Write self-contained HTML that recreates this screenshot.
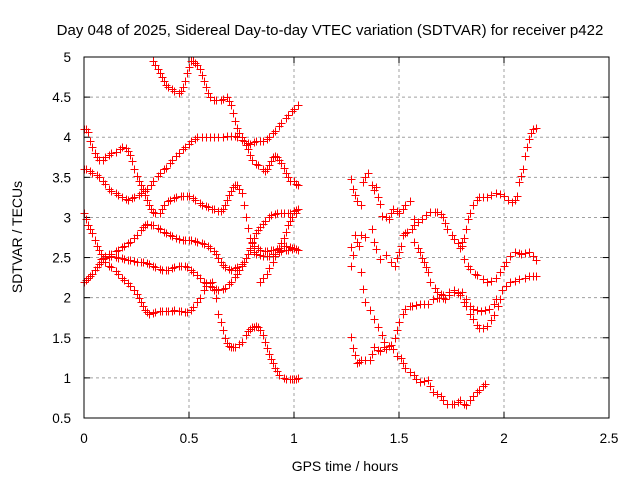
<!DOCTYPE html>
<html><head><meta charset="utf-8"><style>
body{margin:0;background:#fff;}
svg{display:block;font-family:"Liberation Sans",sans-serif;}
</style></head><body>
<svg id="chart" width="640" height="480" viewBox="0 0 640 480">
<rect width="640" height="480" fill="#fff"/>
<text x="330" y="35" font-size="15" text-anchor="middle">Day 048 of 2025, Sidereal Day-to-day VTEC variation (SDTVAR) for receiver p422</text>
<text x="345" y="471" font-size="14" text-anchor="middle">GPS time / hours</text>
<text transform="translate(22,237) rotate(-90)" font-size="14" text-anchor="middle">SDTVAR / TECUs</text>
<g id="grid"></g>
<g id="marks"></g>
<rect x="84" y="57" width="525" height="361" fill="none" stroke="#000" stroke-width="1"/>
</svg>
<script>
const xTicks=[0,0.5,1,1.5,2,2.5];
const xTickLabels=["0","0.5","1","1.5","2","2.5"];
const yTicks=[0.5,1,1.5,2,2.5,3,3.5,4,4.5,5];
const yTickLabels=["0.5","1","1.5","2","2.5","3","3.5","4","4.5","5"];
const traceA=[[0.33,4.95],[0.34,4.9],[0.35,4.85],[0.36,4.8],[0.37,4.75],[0.38,4.7],[0.39,4.65],[0.4,4.62],[0.42,4.6],[0.43,4.57],[0.45,4.55],[0.46,4.58],[0.47,4.62],[0.48,4.7],[0.49,4.8],[0.5,4.88],[0.51,4.95],[0.52,4.95],[0.53,4.93],[0.54,4.9],[0.55,4.85],[0.56,4.78],[0.57,4.7],[0.58,4.62],[0.59,4.55],[0.6,4.5],[0.62,4.47],[0.63,4.47],[0.65,4.47],[0.66,4.48],[0.68,4.5],[0.69,4.45],[0.7,4.4],[0.71,4.3],[0.72,4.2],[0.73,4.12],[0.74,4.05],[0.75,4.0],[0.76,3.95],[0.78,3.93],[0.79,3.92],[0.81,3.94],[0.82,3.95],[0.84,3.95],[0.85,3.95],[0.87,3.98],[0.88,4.0],[0.9,4.05],[0.91,4.08],[0.93,4.14],[0.94,4.18],[0.96,4.24],[0.97,4.28],[0.99,4.33],[1.0,4.35],[1.02,4.4]];
const traceB=[[0,4.1],[0.01,4.1],[0.02,4.07],[0.03,3.95],[0.04,3.88],[0.05,3.8],[0.06,3.75],[0.07,3.72],[0.09,3.72],[0.1,3.75],[0.12,3.78],[0.13,3.8],[0.15,3.82],[0.17,3.85],[0.18,3.88],[0.2,3.87],[0.21,3.83],[0.22,3.78],[0.23,3.7],[0.24,3.6],[0.25,3.52],[0.26,3.45],[0.27,3.4],[0.28,3.35],[0.29,3.28],[0.3,3.22],[0.31,3.15],[0.32,3.1],[0.33,3.07],[0.34,3.05],[0.36,3.05],[0.37,3.1],[0.38,3.15],[0.4,3.2],[0.41,3.22],[0.43,3.24],[0.44,3.25],[0.46,3.27],[0.47,3.27],[0.49,3.27],[0.5,3.27],[0.52,3.24],[0.53,3.22],[0.55,3.18],[0.56,3.15],[0.58,3.14],[0.59,3.13],[0.61,3.11],[0.62,3.1],[0.64,3.08],[0.65,3.08],[0.66,3.1],[0.67,3.15],[0.68,3.22],[0.69,3.28],[0.7,3.33],[0.71,3.38],[0.72,3.4],[0.73,3.4],[0.74,3.36],[0.75,3.3],[0.76,3.15],[0.77,3.0],[0.78,2.87],[0.79,2.75],[0.8,2.7],[0.81,2.65],[0.83,2.62],[0.84,2.6],[0.86,2.58],[0.87,2.58],[0.89,2.59],[0.9,2.6],[0.92,2.61],[0.93,2.62],[0.95,2.64],[0.96,2.65],[0.98,2.63],[0.99,2.62],[1.01,2.61],[1.02,2.6]];
const traceC=[[0,3.6],[0.01,3.6],[0.03,3.58],[0.04,3.56],[0.06,3.53],[0.07,3.5],[0.09,3.45],[0.1,3.42],[0.12,3.35],[0.13,3.33],[0.15,3.3],[0.16,3.28],[0.18,3.25],[0.2,3.23],[0.21,3.22],[0.23,3.24],[0.24,3.25],[0.26,3.28],[0.27,3.3],[0.29,3.33],[0.3,3.35],[0.32,3.4],[0.33,3.45],[0.35,3.52],[0.36,3.55],[0.38,3.6],[0.39,3.62],[0.41,3.68],[0.42,3.72],[0.44,3.77],[0.45,3.8],[0.47,3.85],[0.48,3.88],[0.5,3.92],[0.51,3.95],[0.53,3.98],[0.54,4.0],[0.56,4.0],[0.58,4.0],[0.6,4.0],[0.62,4.0],[0.64,4.0],[0.66,4.0],[0.68,4.01],[0.7,4.02],[0.72,4.01],[0.73,4.0],[0.75,3.97],[0.76,3.95],[0.77,3.9],[0.78,3.85],[0.79,3.78],[0.8,3.72],[0.82,3.67],[0.83,3.65],[0.85,3.6],[0.86,3.58],[0.87,3.6],[0.88,3.65],[0.89,3.7],[0.9,3.75],[0.91,3.76],[0.92,3.75],[0.93,3.72],[0.94,3.68],[0.95,3.62],[0.96,3.55],[0.97,3.5],[0.98,3.45],[1.0,3.45],[1.01,3.42],[1.02,3.4]];
const traceD=[[0,3.05],[0.01,2.98],[0.02,2.9],[0.03,2.85],[0.04,2.8],[0.05,2.72],[0.06,2.65],[0.07,2.6],[0.08,2.55],[0.09,2.5],[0.1,2.45],[0.12,2.4],[0.13,2.38],[0.15,2.33],[0.16,2.3],[0.18,2.25],[0.19,2.22],[0.21,2.18],[0.22,2.15],[0.24,2.1],[0.25,2.05],[0.26,2.0],[0.27,1.95],[0.28,1.9],[0.29,1.85],[0.3,1.82],[0.31,1.8],[0.33,1.81],[0.34,1.82],[0.36,1.83],[0.37,1.83],[0.39,1.83],[0.4,1.83],[0.42,1.84],[0.43,1.85],[0.45,1.84],[0.46,1.83],[0.48,1.82],[0.49,1.82],[0.51,1.85],[0.52,1.88],[0.54,1.95],[0.55,2.0],[0.57,2.1],[0.58,2.15],[0.6,2.18],[0.61,2.2],[0.62,2.1],[0.63,2.0],[0.64,1.8],[0.65,1.7],[0.66,1.6],[0.67,1.5],[0.68,1.43],[0.69,1.4],[0.7,1.38],[0.71,1.38],[0.72,1.38],[0.74,1.42],[0.75,1.45],[0.77,1.53],[0.78,1.58],[0.79,1.61],[0.8,1.63],[0.81,1.64],[0.82,1.65],[0.83,1.63],[0.84,1.6],[0.85,1.53],[0.86,1.45],[0.87,1.37],[0.88,1.3],[0.89,1.23],[0.9,1.18],[0.91,1.12],[0.92,1.08],[0.93,1.04],[0.95,1.0],[0.96,0.99],[0.98,0.98],[0.99,0.98],[1.0,0.98],[1.01,0.99],[1.02,1.0]];
const traceE=[[0,2.2],[0.01,2.22],[0.02,2.25],[0.03,2.27],[0.04,2.3],[0.05,2.34],[0.06,2.38],[0.07,2.42],[0.08,2.45],[0.09,2.48],[0.1,2.5],[0.12,2.51],[0.13,2.52],[0.15,2.51],[0.16,2.5],[0.18,2.49],[0.19,2.48],[0.21,2.47],[0.22,2.47],[0.24,2.46],[0.25,2.45],[0.27,2.45],[0.28,2.45],[0.3,2.43],[0.31,2.42],[0.33,2.4],[0.34,2.38],[0.36,2.36],[0.37,2.35],[0.39,2.35],[0.4,2.35],[0.42,2.37],[0.43,2.38],[0.45,2.39],[0.46,2.4],[0.48,2.39],[0.49,2.38],[0.51,2.34],[0.52,2.32],[0.54,2.28],[0.55,2.25],[0.57,2.2],[0.58,2.18],[0.6,2.15],[0.61,2.13],[0.63,2.11],[0.64,2.1],[0.66,2.11],[0.67,2.12],[0.69,2.17],[0.7,2.2],[0.72,2.26],[0.73,2.3],[0.74,2.35],[0.75,2.4],[0.76,2.45],[0.77,2.5],[0.78,2.55],[0.79,2.6],[0.81,2.57],[0.82,2.55],[0.84,2.53],[0.85,2.52],[0.87,2.52],[0.88,2.52],[0.9,2.54],[0.91,2.55],[0.93,2.57],[0.94,2.58],[0.96,2.59],[0.97,2.6],[0.99,2.61],[1.0,2.62],[1.02,2.6]];
const traceF=[[0.08,2.48],[0.09,2.5],[0.1,2.52],[0.12,2.54],[0.13,2.55],[0.15,2.58],[0.16,2.6],[0.18,2.63],[0.19,2.65],[0.21,2.68],[0.22,2.7],[0.24,2.75],[0.25,2.78],[0.27,2.84],[0.28,2.88],[0.29,2.9],[0.3,2.92],[0.32,2.91],[0.33,2.9],[0.35,2.87],[0.36,2.85],[0.38,2.82],[0.39,2.8],[0.41,2.78],[0.42,2.77],[0.44,2.74],[0.45,2.73],[0.47,2.72],[0.48,2.72],[0.5,2.72],[0.51,2.72],[0.53,2.71],[0.54,2.7],[0.56,2.68],[0.57,2.67],[0.59,2.64],[0.6,2.62],[0.62,2.58],[0.63,2.55],[0.64,2.5],[0.65,2.45],[0.66,2.41],[0.67,2.38],[0.69,2.36],[0.7,2.35],[0.72,2.37],[0.73,2.38],[0.75,2.42],[0.76,2.45],[0.77,2.5],[0.78,2.55],[0.79,2.62],[0.8,2.68],[0.81,2.74],[0.82,2.8],[0.83,2.84],[0.84,2.88],[0.85,2.92],[0.86,2.95],[0.88,3.0],[0.89,3.03],[0.91,3.04],[0.92,3.05],[0.94,3.05],[0.95,3.05],[0.97,3.05],[0.98,3.05],[1.0,3.08],[1.01,3.09],[1.02,3.1]];
const traceG=[[0.84,2.2],[0.85,2.24],[0.87,2.3],[0.88,2.37],[0.9,2.45],[0.91,2.52],[0.93,2.6],[0.94,2.68],[0.95,2.75],[0.96,2.82],[0.97,2.9],[0.98,2.95],[0.99,3.0],[1.01,3.05]];
const traceR1=[[1.27,3.48],[1.28,3.36],[1.29,3.28],[1.3,3.2],[1.32,3.15],[1.33,3.44],[1.34,3.5],[1.35,3.56],[1.37,3.4],[1.38,3.34],[1.39,3.38],[1.4,3.25],[1.41,3.17],[1.42,3.02],[1.44,3.0],[1.45,2.98],[1.46,3.05],[1.47,3.1],[1.49,3.08],[1.5,3.05],[1.52,3.1],[1.53,3.15],[1.55,3.2]];
const traceHump=[[1.48,2.4],[1.49,2.5],[1.5,2.57],[1.51,2.65],[1.52,2.78],[1.53,2.8],[1.54,2.82],[1.56,2.86],[1.57,2.9],[1.59,2.94],[1.61,2.98],[1.63,3.03],[1.65,3.07],[1.67,3.07],[1.68,3.07],[1.7,3.04],[1.71,3.0],[1.72,2.93],[1.73,2.86],[1.75,2.78],[1.76,2.73],[1.78,2.68],[1.8,2.65],[1.81,2.48],[1.83,2.4],[1.84,2.36],[1.86,2.3],[1.87,2.28],[1.9,2.23],[1.92,2.2],[1.94,2.21],[1.96,2.24],[1.98,2.32],[2.0,2.4],[2.01,2.45],[2.03,2.52],[2.05,2.57],[2.07,2.56],[2.08,2.55],[2.1,2.56],[2.12,2.57],[2.14,2.52],[2.15,2.47]];
const traceR2=[[1.57,2.98],[1.57,2.69],[1.59,2.62],[1.6,2.57],[1.61,2.5],[1.62,2.44],[1.63,2.38],[1.64,2.32],[1.65,2.2],[1.67,2.12],[1.68,2.07],[1.7,2.05],[1.71,2.03],[1.74,2.07],[1.76,2.1],[1.78,2.06],[1.79,2.03],[1.81,1.95],[1.82,1.9],[1.84,1.8],[1.85,1.74],[1.87,1.66],[1.88,1.62],[1.9,1.62],[1.92,1.65],[1.94,1.72],[1.95,1.78],[1.97,1.9],[1.98,1.98],[1.99,2.1],[2.01,2.15],[2.03,2.19],[2.05,2.21],[2.07,2.23],[2.1,2.25],[2.12,2.27],[2.14,2.27],[2.15,2.27]];
const traceR3=[[1.79,2.62],[1.8,2.7],[1.81,2.75],[1.82,2.85],[1.83,2.98],[1.84,3.06],[1.85,3.15],[1.87,3.22],[1.88,3.25],[1.9,3.25],[1.92,3.25],[1.94,3.28],[1.96,3.31],[1.98,3.29],[2.0,3.27],[2.02,3.22],[2.04,3.19],[2.05,3.22],[2.06,3.27],[2.07,3.44],[2.08,3.52],[2.09,3.6],[2.1,3.77],[2.11,3.88],[2.12,3.98],[2.13,4.05],[2.14,4.1],[2.15,4.12]];
const traceR4=[[1.27,1.51],[1.28,1.37],[1.29,1.28],[1.3,1.18],[1.31,1.2],[1.32,1.22],[1.34,1.22],[1.36,1.22],[1.37,1.3],[1.38,1.39],[1.4,1.35],[1.41,1.33],[1.43,1.39],[1.45,1.4],[1.46,1.41],[1.48,1.5],[1.49,1.6],[1.5,1.7],[1.52,1.8],[1.53,1.86],[1.55,1.89],[1.56,1.9],[1.58,1.91],[1.6,1.92],[1.62,1.92],[1.64,1.92],[1.66,1.98],[1.68,1.99],[1.69,2.0],[1.71,1.99],[1.72,1.98],[1.74,2.03],[1.76,2.07],[1.78,2.07],[1.8,2.07],[1.82,1.98],[1.84,1.9],[1.85,1.86],[1.87,1.85],[1.89,1.84],[1.91,1.85],[1.93,1.86],[1.95,1.92],[1.96,1.98]];
const traceR4b=[[1.49,1.27],[1.51,1.25],[1.52,1.18],[1.53,1.12],[1.55,1.07],[1.57,1.03],[1.58,0.99],[1.6,0.95],[1.62,0.96],[1.64,0.97],[1.65,0.9],[1.66,0.83],[1.68,0.8],[1.7,0.77],[1.71,0.72],[1.73,0.68],[1.75,0.68],[1.76,0.68],[1.78,0.7],[1.79,0.72],[1.81,0.68],[1.82,0.66],[1.84,0.72],[1.85,0.77],[1.87,0.82],[1.88,0.85],[1.9,0.9],[1.91,0.93]];
const traceR5=[[1.27,2.63],[1.27,2.4],[1.28,2.53],[1.29,2.78],[1.3,2.7],[1.31,2.65],[1.32,2.78],[1.32,2.32],[1.33,2.11],[1.34,2.76],[1.34,1.95],[1.36,1.85],[1.37,2.86],[1.38,2.69],[1.38,1.74],[1.39,2.61],[1.4,1.63],[1.41,2.48],[1.42,1.53],[1.43,1.45],[1.44,2.53],[1.44,1.36],[1.46,2.44],[1.47,1.36]];
const allTraces=[traceA,traceB,traceC,traceD,traceE,traceF,traceG,traceR1,traceHump,traceR2,traceR3,traceR4,traceR4b,traceR5];

const X0=84,X1=609,Y0=418,Y1=57;
function sx(v){return X0+(v-0)/(2.5-0)*(X1-X0);}
function sy(v){return Y0-(v-0.5)/(5-0.5)*(Y0-Y1);}
const NS="http://www.w3.org/2000/svg";
const grid=document.getElementById('grid');
const marks=document.getElementById('marks');
function mk(tag,attrs,parent){const e=document.createElementNS(NS,tag);for(const k in attrs)e.setAttribute(k,attrs[k]);parent.appendChild(e);return e;}
xTicks.forEach((t,i)=>{
  const x=sx(t);
  if(i>0&&i<xTicks.length-1){const g=mk('line',{x1:x,y1:Y1,x2:x,y2:Y0,stroke:'#a0a0a0','stroke-dasharray':'3,3'},grid);
  
  }
  const a=mk('line',{x1:x,y1:Y0,x2:x,y2:Y0-6,stroke:'#000'},grid);
  
  
  const b=mk('line',{x1:x,y1:Y1,x2:x,y2:Y1+6,stroke:'#000'},grid);
  
  
  const l=mk('text',{x:x,y:443,'font-size':'13.5','text-anchor':'middle'},grid);
  l.textContent=xTickLabels[i];
  
  
});
yTicks.forEach((t,i)=>{
  const y=sy(t);
  if(i>0&&i<yTicks.length-1){const g=mk('line',{x1:X0,y1:y,x2:X1,y2:y,stroke:'#a0a0a0','stroke-dasharray':'3,3'},grid);
  
  }
  const a=mk('line',{x1:X0,y1:y,x2:X0+6,y2:y,stroke:'#000'},grid);
  
  
  const b=mk('line',{x1:X1,y1:y,x2:X1-6,y2:y,stroke:'#000'},grid);
  
  
  const l=mk('text',{x:71,y:y+5,'font-size':'13.5','text-anchor':'end'},grid);
  l.textContent=yTickLabels[i];
  
  
});
allTraces.forEach(tr=>{
  tr.forEach(p=>{
    const x=Math.round(sx(p[0]))+0.5,y=Math.round(sy(p[1]))+0.5;
    const m=mk('path',{d:`M${x-4} ${y}H${x+4}M${x} ${y-4}V${y+4}`,stroke:'#ff0000','stroke-width':'1',fill:'none'},marks);
    
    
  });
});
</script>
</body></html>
